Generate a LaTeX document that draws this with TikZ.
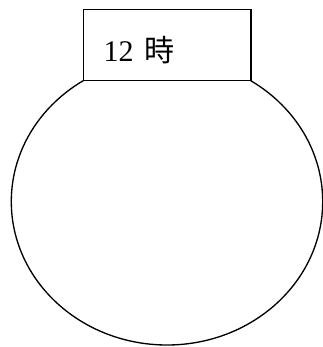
\documentclass[tikz,border=0pt]{standalone}
\usepackage{fontspec}
\usetikzlibrary{shapes.geometric}
\setmainfont{Liberation Serif}
\newfontfamily\cjk{Noto Sans CJK JP}
\begin{document}
\begin{tikzpicture}[x=0.75pt,y=-0.75pt,
  shape line/.style={draw=black,line width=1pt},
  lbl/.style={anchor=base west,inner sep=0pt,font=\fontsize{22.5}{26}\selectfont}]
\useasboundingbox (0,0) rectangle (323,347);
\node[shape line,ellipse,minimum width=311.4*0.75pt,minimum height=286.8*0.75pt,inner sep=0pt] (face) at (167,201.6) {};
\node[shape line,fill=white,rectangle,minimum width=167.5*0.75pt,minimum height=71*0.75pt,inner sep=0pt] (box) at (167.25,45) {};
\node[lbl] (t) at (103.3,61.7) {12\hspace{0.35em}{\cjk 時}};
\end{tikzpicture}
\end{document}
